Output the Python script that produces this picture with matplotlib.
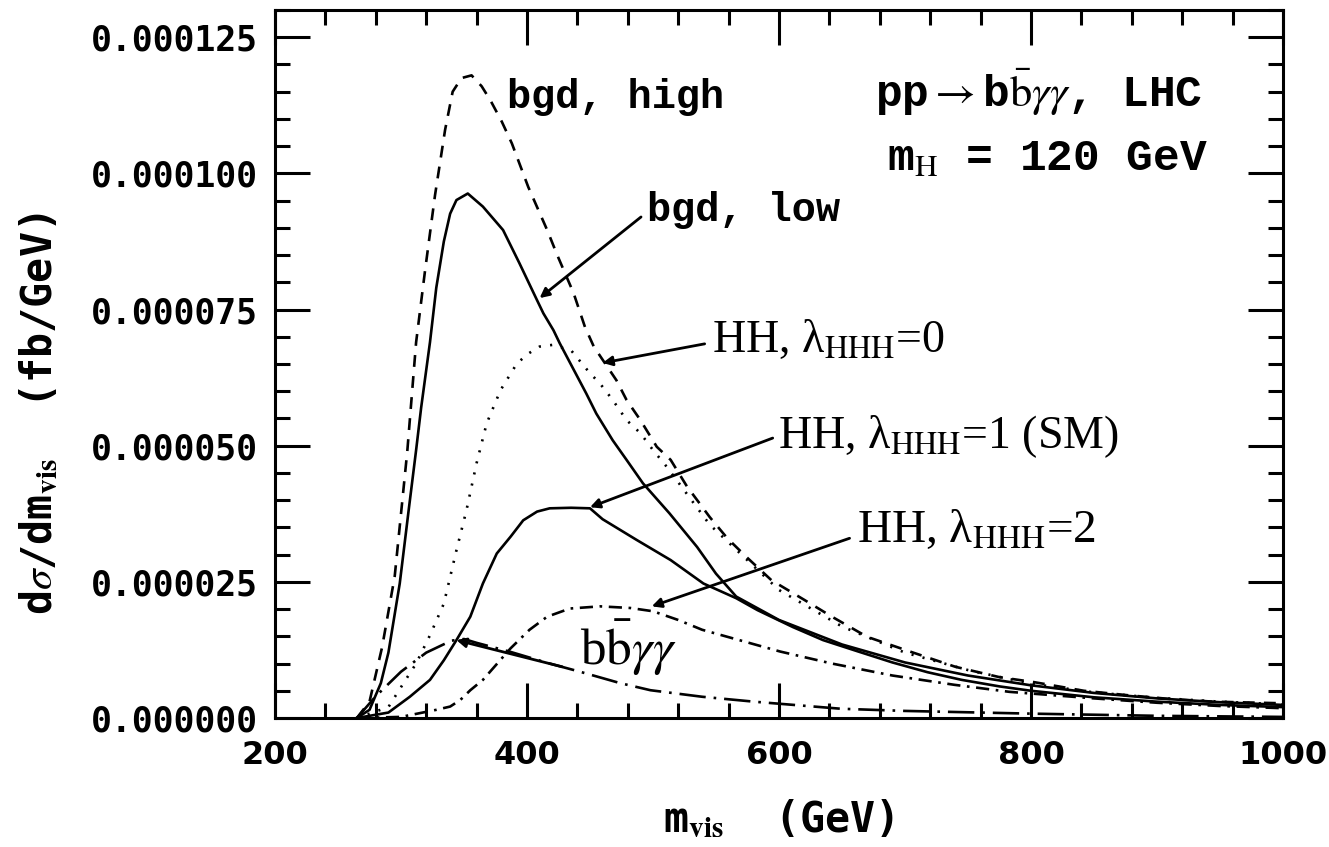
import matplotlib
matplotlib.use('Agg')
import matplotlib.pyplot as plt
from matplotlib.ticker import MultipleLocator, FormatStrFormatter

plt.rcParams['mathtext.fontset'] = 'stix'

# m_vis (GeV) and dsigma/dm (units of 1e-5 fb/GeV)
bgd_high_m = [265, 275, 285, 295, 305, 312, 319, 327, 335, 341, 348, 356, 364, 371, 380, 388,
              401, 416, 424, 437, 446, 453, 471, 479, 490, 503, 514, 527, 537, 545, 559, 574,
              594, 620, 642, 670, 704, 740, 775, 802, 842, 876, 910, 945, 1000]
bgd_high_v = [0, 0.3, 1.3, 2.6, 4.9, 6.9, 8.2, 9.6, 10.8, 11.5, 11.75, 11.8, 11.6, 11.34, 10.95, 10.55,
              9.75, 8.96, 8.5, 7.8, 7.18, 6.82, 6.2, 5.84, 5.47, 4.98, 4.74, 4.25, 3.94, 3.69, 3.3, 2.96,
              2.53, 2.17, 1.86, 1.49, 1.22, 0.94, 0.75, 0.66, 0.5, 0.42, 0.35, 0.3, 0.27]

bgd_low_m = [265, 275, 284, 290, 299, 306, 312, 316, 323, 328, 334, 339, 344, 353, 365, 381, 394,
             408, 413, 421, 426, 447, 455, 468, 479, 492, 513, 535, 550, 566, 600, 650, 700, 750, 800,
             850, 900, 950, 1000]
bgd_low_v = [0, 0.15, 0.64, 1.2, 2.47, 3.8, 4.92, 5.7, 6.9, 7.9, 8.75, 9.26, 9.51, 9.63, 9.39, 8.96, 8.35,
             7.67, 7.43, 7.12, 6.88, 5.96, 5.59, 5.10, 4.74, 4.31, 3.76, 3.14, 2.65, 2.23, 1.8, 1.35, 1.02, 0.78,
             0.6, 0.46, 0.36, 0.29, 0.24]

hh0_m = [265, 290, 302, 312, 323, 334, 344, 352, 360, 368, 379, 392, 401, 410, 420, 435, 450, 458,
         468, 479, 490, 500, 511, 545, 600, 650, 700, 750, 800, 850, 900, 950, 1000]
hh0_v = [0, 0.2, 0.64, 1.0, 1.52, 2.1, 3.08, 3.82, 4.68, 5.41, 6.02, 6.51, 6.69, 6.82, 6.85, 6.75, 6.33, 6.14,
         5.84, 5.47, 5.23, 4.92, 4.61, 3.55, 2.35, 1.68, 1.2, 0.88, 0.63, 0.47, 0.37, 0.3, 0.25]

hh1_m = [265, 290, 307, 323, 334, 344, 355, 365, 376, 387, 397, 408, 418, 435, 450, 460, 487, 514,
         540, 566, 583, 611, 635, 663, 690, 718, 745, 775, 800, 850, 900, 950, 1000]
hh1_v = [0, 0.1, 0.39, 0.7, 1.06, 1.43, 1.86, 2.47, 3.02, 3.33, 3.63, 3.79, 3.85, 3.86, 3.85, 3.65, 3.27, 2.9,
         2.47, 2.2, 1.98, 1.67, 1.43, 1.22, 1.02, 0.84, 0.7, 0.58, 0.5, 0.38, 0.3, 0.24, 0.2]

hh2_m = [265, 300, 328, 339, 347, 355, 365, 387, 402, 416, 434, 458, 482, 500, 520, 539, 601, 642, 690,
         739, 783, 850, 900, 950, 1000]
hh2_v = [0, 0.02, 0.15, 0.21, 0.33, 0.51, 0.7, 1.28, 1.62, 1.86, 2.01, 2.05, 2.02, 1.96, 1.8, 1.62, 1.22, 1.0,
         0.78, 0.61, 0.48, 0.36, 0.28, 0.22, 0.18]

bbaa_m = [265, 280, 300, 320, 340, 350, 360, 386, 418, 442, 474, 498, 539, 580, 649, 700, 760, 800,
          900, 1000]
bbaa_v = [0, 0.4, 0.85, 1.2, 1.42, 1.45, 1.38, 1.22, 1.0, 0.85, 0.64, 0.51, 0.39, 0.3, 0.17, 0.13, 0.1, 0.08,
          0.04, 0.02]

scale = 1e-5

fig = plt.figure(figsize=(13.29, 8.47), dpi=100)
ax = fig.add_axes([275 / 1329, 1 - 718 / 847, (1283 - 275) / 1329, (718 - 10) / 847])

lw = 1.9
ax.plot(bgd_high_m, [v * scale for v in bgd_high_v], color='k', lw=lw, dashes=(4.5, 3.5))
ax.plot(bgd_low_m, [v * scale for v in bgd_low_v], color='k', lw=lw)
ax.plot(hh0_m, [v * scale for v in hh0_v], color='k', lw=lw, dashes=(0.8, 3.5))
ax.plot(hh1_m, [v * scale for v in hh1_v], color='k', lw=lw)
ax.plot(hh2_m, [v * scale for v in hh2_v], color='k', lw=lw, dashes=(5, 2.5, 1, 2.5))
ax.plot(bbaa_m, [v * scale for v in bbaa_v], color='k', lw=lw, dashes=(10, 3, 1, 3))

ax.set_xlim(200, 1000)
ax.set_ylim(0, 0.00013)
ax.xaxis.set_major_locator(MultipleLocator(200))
ax.xaxis.set_minor_locator(MultipleLocator(40))
ax.yaxis.set_major_locator(MultipleLocator(0.000025))
ax.yaxis.set_minor_locator(MultipleLocator(0.000005))
ax.yaxis.set_major_formatter(FormatStrFormatter('%.6f'))
ax.tick_params(which='both', direction='in', top=True, right=True, width=2.2)
ax.tick_params(which='major', length=25)
ax.tick_params(which='minor', length=11)
ax.tick_params(axis='y', pad=12)
ax.tick_params(axis='x', pad=16)
for s in ax.spines.values():
    s.set_linewidth(2.2)
for t in ax.get_yticklabels():
    t.set_fontfamily('DejaVu Sans Mono')
    t.set_fontweight('bold')
    t.set_fontsize(25)
for t in ax.get_xticklabels():
    t.set_fontfamily('DejaVu Sans')
    t.set_fontweight('bold')
    t.set_fontsize(23)

ax.set_ylabel(r'd$\sigma$/dm$_{\mathbf{vis}}$  (fb/GeV)', fontsize=30, fontweight='bold',
              fontfamily='DejaVu Sans Mono')
ax.yaxis.set_label_coords(-0.233, 0.43)
ax.yaxis.label.set_va('center')
ax.set_xlabel(r'm$_{\mathbf{vis}}$  (GeV)', fontsize=30, fontweight='bold',
              fontfamily='DejaVu Sans Mono')
ax.xaxis.set_label_coords(0.5, -0.145)
ax.xaxis.label.set_va('center')

mono = dict(fontfamily='Liberation Mono', fontweight='bold', fontsize=29, va='center')
serif = dict(fontfamily='Liberation Serif', fontsize=33, va='center')
arw = dict(arrowstyle='-|>', lw=2, color='k', mutation_scale=14, shrinkA=0, shrinkB=0)

ax.text(384, 11.4 * scale, 'bgd, high', **mono)
ax.text(676, 11.5 * scale, r'pp$\rightarrow$b$\bar{\rm b}\gamma\gamma$, LHC',
        **dict(mono, fontsize=32))
ax.text(686, 10.28 * scale, r'm$_{\rm H}$ = 120 GeV', **dict(mono, fontsize=32))

ax.annotate('', xy=(410, 7.71 * scale), xytext=(490.5, 9.2 * scale), arrowprops=arw)
ax.text(495, 9.32 * scale, 'bgd, low', **mono)

ax.annotate('', xy=(460, 6.52 * scale), xytext=(541, 6.87 * scale), arrowprops=arw)
ax.text(547, 6.94 * scale, r'HH, λ$_{\rm HHH}$=0', **serif)

ax.annotate('', xy=(450, 3.87 * scale), xytext=(595, 5.14 * scale), arrowprops=arw)
ax.text(599, 5.16 * scale, r'HH, λ$_{\rm HHH}$=1 (SM)', **serif)

ax.annotate('', xy=(499, 2.05 * scale), xytext=(656, 3.30 * scale), arrowprops=arw)
ax.text(662, 3.45 * scale, r'HH, λ$_{\rm HHH}$=2', **dict(serif, fontsize=34))

ax.annotate('', xy=(344, 1.43 * scale), xytext=(428, 0.94 * scale), arrowprops=arw)
ax.text(442, 1.28 * scale, r'b$\bar{\rm b}\gamma\gamma$', **dict(serif, fontsize=37))

fig.savefig('out.png', dpi=100)
